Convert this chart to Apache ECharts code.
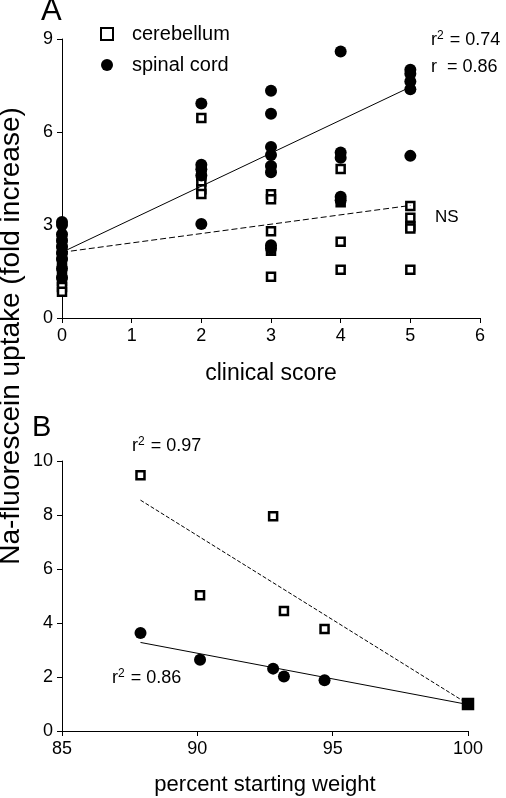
<!DOCTYPE html>
<html><head><meta charset="utf-8">
<script src="https://cdn.jsdelivr.net/npm/echarts@6/dist/echarts.min.js"></script>
<style>html,body{margin:0;padding:0;background:#fff}#c{width:506px;height:798px}</style>
</head><body><div id="c"></div>
<script>
// Panel A: clinical score vs uptake
const aCerebX = [0,0,0,0,0,0,0,0,0, 2,2,2,2,2, 3,3,3,3,3,3, 4,4,4,4, 5,5,5,5,5];
const aCerebY = [2.6,2.4,2.2,2.0,1.8,1.4,1.2,1.0,0.85, 6.45,4.6,4.4,4.15,4.0, 4.83,3.99,3.83,2.8,2.17,1.33, 4.81,3.73,2.46,1.56, 3.61,3.23,2.96,2.89,1.56];
const aSpinalX = [0,0,0,0,0,0,0,0,0, 2,2,2,2,2, 3,3,3,3,3,3,3,3, 4,4,4,4,4, 5,5,5,5,5];
const aSpinalY = [3.1,3.0,2.7,2.5,2.3,2.1,1.9,1.6,1.3, 6.92,4.94,4.8,4.6,3.03, 7.33,6.59,5.52,5.26,4.9,4.7,2.35,2.24, 8.6,5.34,5.17,3.91,3.8, 8.01,7.88,7.63,7.38,5.23];
const aFitSpinalX = [0,5], aFitSpinalY = [2.12,7.45];
const aFitCerebX = [0,5], aFitCerebY = [2.12,3.63];
const aXTicks = [0,1,2,3,4,5,6], aYTicks = [0,3,6,9];
// Panel B: percent starting weight vs uptake
const bCerebX = [87.9,90.1,92.8,93.2,94.7,100];
const bCerebY = [9.47,5.03,7.95,4.44,3.78,1.0];
const bSpinalX = [87.9,90.1,92.8,93.2,94.7,100];
const bSpinalY = [3.63,2.64,2.31,2.02,1.88,1.0];
const bFitCerebX = [87.9,100], bFitCerebY = [8.55,1.0];
const bFitSpinalX = [87.9,100], bFitSpinalY = [3.28,0.98];
const bXTicks = [85,90,95,100], bYTicks = [0,2,4,6,8,10];

const zip = (xs, ys) => xs.map((x,i)=>[x, ys[i]]);
const FONT = 'Liberation Sans, Arial, sans-serif';
const axisCommon = {
  axisLine:{show:true,lineStyle:{color:'#000',width:1}},
  axisTick:{show:true,length:5,lineStyle:{color:'#000'}},
  splitLine:{show:false},
  axisLabel:{color:'#000',fontSize:18,fontFamily:FONT},
};
const sq = {symbol:'rect',symbolSize:8,itemStyle:{color:'#fff',borderColor:'#000',borderWidth:2.5,opacity:1}};
const ci = {symbol:'circle',symbolSize:12,itemStyle:{color:'#000',opacity:1}};
const supRich = {
  b:{fontSize:18,fontFamily:FONT,color:'#000'},
  s:{fontSize:12,fontFamily:FONT,color:'#000',padding:[0,1,9,0]}
};

const chart = echarts.init(document.getElementById('c'),null,{renderer:'canvas'});
chart.setOption({
  animation:false,
  backgroundColor:'#fff',
  grid:[
    {left:62,right:26,top:39,height:279},
    {left:62,right:38,top:461,height:270}
  ],
  xAxis:[
    Object.assign({},axisCommon,{gridIndex:0,type:'value',min:aXTicks[0],max:aXTicks[aXTicks.length-1],interval:1,
      axisLabel:Object.assign({},axisCommon.axisLabel,{margin:9}),
      name:'clinical score',nameLocation:'middle',nameGap:44,nameTextStyle:{color:'#000',fontSize:23,fontFamily:FONT}}),
    Object.assign({},axisCommon,{gridIndex:1,type:'value',min:bXTicks[0],max:bXTicks[bXTicks.length-1],interval:5,
      axisLabel:Object.assign({},axisCommon.axisLabel,{margin:9}),
      name:'percent starting weight',nameLocation:'middle',nameGap:43,nameTextStyle:{color:'#000',fontSize:22,fontFamily:FONT}})
  ],
  yAxis:[
    Object.assign({},axisCommon,{gridIndex:0,type:'value',min:aYTicks[0],max:aYTicks[aYTicks.length-1],interval:3,
      axisLabel:Object.assign({},axisCommon.axisLabel,{margin:9})}),
    Object.assign({},axisCommon,{gridIndex:1,type:'value',min:bYTicks[0],max:bYTicks[bYTicks.length-1],interval:2,
      axisLabel:Object.assign({},axisCommon.axisLabel,{margin:9})})
  ],
  legend:{
    data:['cerebellum','spinal cord'],orient:'vertical',left:95,top:19,
    itemWidth:12,itemHeight:12,itemGap:11,
    textStyle:{color:'#000',fontSize:20,fontFamily:FONT,padding:[0,0,0,14]},
    selectedMode:false
  },
  series:[
    Object.assign({type:'scatter',name:'cerebellum',xAxisIndex:0,yAxisIndex:0,data:zip(aCerebX,aCerebY),z:3},sq),
    Object.assign({type:'scatter',name:'spinal cord',xAxisIndex:0,yAxisIndex:0,data:zip(aSpinalX,aSpinalY),z:4},ci),
    {type:'line',name:'fitA1',xAxisIndex:0,yAxisIndex:0,data:zip(aFitSpinalX,aFitSpinalY),showSymbol:false,lineStyle:{color:'#000',width:1},z:5},
    {type:'line',name:'fitA2',xAxisIndex:0,yAxisIndex:0,data:zip(aFitCerebX,aFitCerebY),showSymbol:false,lineStyle:{color:'#000',width:1,type:[6,3]},z:5},
    Object.assign({type:'scatter',name:'cerebellum',xAxisIndex:1,yAxisIndex:1,
      data:zip(bCerebX,bCerebY).map((p,i)=> i===bCerebX.length-1 ? {value:p,symbolSize:10,itemStyle:{color:'#000'}} : p),z:4},sq),
    Object.assign({type:'scatter',name:'spinal cord',xAxisIndex:1,yAxisIndex:1,data:zip(bSpinalX,bSpinalY),z:3},ci),
    {type:'line',name:'fitB1',xAxisIndex:1,yAxisIndex:1,data:zip(bFitCerebX,bFitCerebY),showSymbol:false,lineStyle:{color:'#000',width:1,type:[4,2]},z:2},
    {type:'line',name:'fitB2',xAxisIndex:1,yAxisIndex:1,data:zip(bFitSpinalX,bFitSpinalY),showSymbol:false,lineStyle:{color:'#000',width:1},z:2}
  ],
  graphic:[
    {type:'text',left:41,top:-4,style:{text:'A',font:'31px '+FONT,fill:'#000'}},
    {type:'text',left:32,top:413,style:{text:'B',font:'29px '+FONT,fill:'#000'}},
    {type:'text',left:431,top:30,style:{text:'{b|r}{s|2}{b| = 0.74}',rich:supRich}},
    {type:'text',left:431,top:58,style:{text:'r  = 0.86',font:'18px '+FONT,fill:'#000'}},
    {type:'text',left:435,top:209,style:{text:'NS',font:'17px '+FONT,fill:'#000'}},
    {type:'text',left:132,top:436,style:{text:'{b|r}{s|2}{b| = 0.97}',rich:supRich}},
    {type:'text',left:112,top:668,style:{text:'{b|r}{s|2}{b| = 0.86}',rich:supRich}},
    {type:'text',x:11,y:336,rotation:Math.PI/2,style:{text:'Na-fluorescein uptake (fold increase)',font:'28px '+FONT,fill:'#000',align:'center',verticalAlign:'middle'}}
  ]
});
</script></body></html>
